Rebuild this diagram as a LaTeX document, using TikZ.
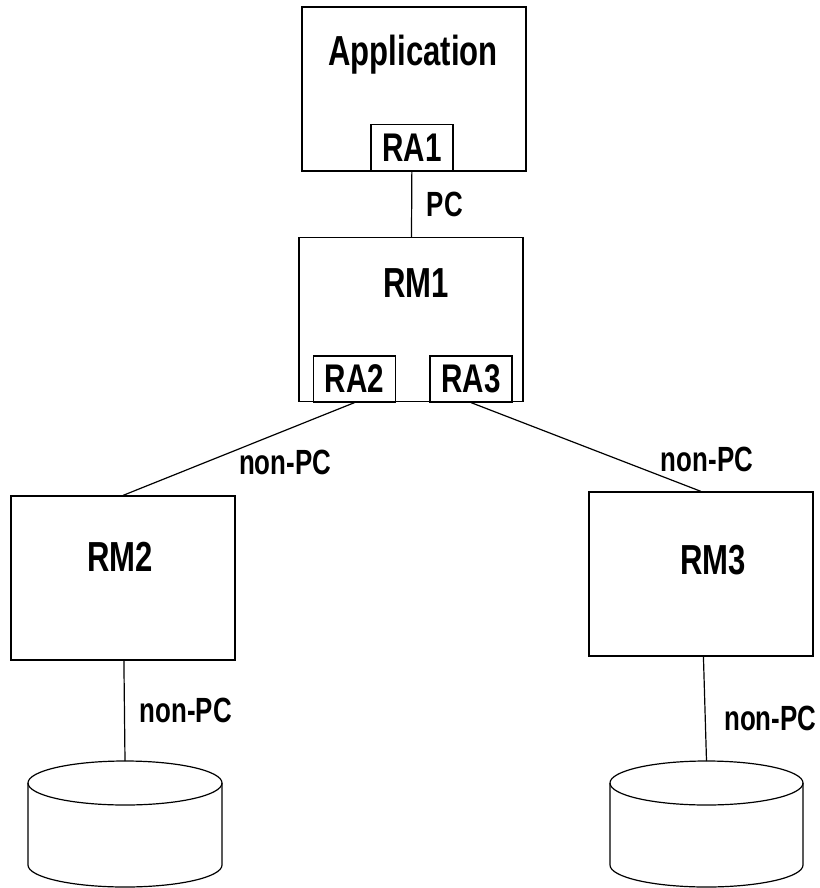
\documentclass[tikz,border=0pt]{standalone}
\usepackage{fontspec}
\setmainfont{Liberation Sans}[FakeStretch=0.74]

\tikzset{
  box/.style={draw, line width=0.6pt, minimum width=112pt, minimum height=82pt, inner sep=0pt},
  tag/.style={draw, line width=0.6pt, minimum width=41pt, minimum height=23pt, inner sep=0pt,
    font=\fontsize{20}{20}\selectfont\bfseries},
  title/.style={font=\fontsize{21}{21}\selectfont\bfseries},
  lbl/.style={font=\fontsize{17.5}{17.5}\selectfont\bfseries},
  disk/.style={draw, line width=0.6pt},
}

\begin{document}
\begin{tikzpicture}[x=0.5pt,y=-0.5pt]
    \useasboundingbox (0,0) rectangle (819,888);
    % boxes
    \node[box] (App) at (414,89) {};
    \node[title] (AppT) at (413,55) {Application};
    \node[tag] (RA1) at (412,147.5) {RA1};
    \node[box] (RM1) at (411,319.5) {};
    \node[title] (RM1T) at (416,283) {RM1};
    \node[tag] (RA2) at (354.5,379) {RA2};
    \node[tag] (RA3) at (471,379) {RA3};
    \node[box] (RM2) at (123,578) {};
    \node[title] (RM2T) at (120,557) {RM2};
    \node[box] (RM3) at (701,574) {};
    \node[title] (RM3T) at (713,560) {RM3};
    % databases
    \coordinate (DB2) at (125,761);
    \coordinate (DB3) at (706.5,761);
    \draw[disk] (125,783) ellipse [x radius=97, y radius=22];
    \draw[disk] (28,783) -- (28,865) arc[start angle=180, end angle=0, x radius=97, y radius=22] -- (222,783);
    \draw[disk] (706.5,783) ellipse [x radius=96.5, y radius=22];
    \draw[disk] (610,783) -- (610,865) arc[start angle=180, end angle=0, x radius=96.5, y radius=22] -- (803,783);
    \path[line width=0.6pt]
      (RA1) edge node[lbl,right,xshift=4pt]{PC} (RM1)
      (RA2.south) edge node[lbl,below,pos=0.3,yshift=-6pt]{non-PC} (RM2.north)
      (RA3.south) edge node[lbl,above,pos=1,xshift=3pt,yshift=6pt]{non-PC} (RM3.north)
      (RM2) edge node[lbl,right,xshift=4pt]{non-PC} (DB2)
      (RM3) edge node[lbl,right,xshift=6pt,yshift=-5pt]{non-PC} (DB3);
  \end{tikzpicture}
\end{document}
